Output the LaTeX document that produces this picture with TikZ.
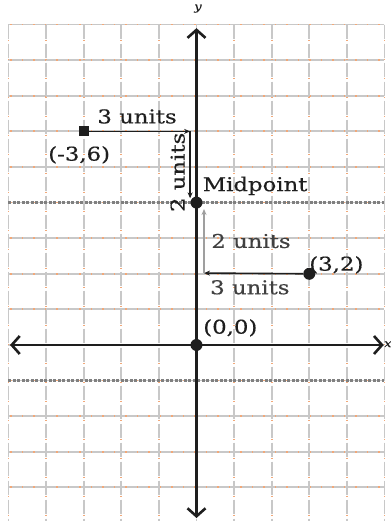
\documentclass[tikz,border=0pt]{standalone}
\usepackage{fontspec}
\setmainfont{DejaVu Serif}[FakeStretch=1.2,FakeBold=0.4]
\usetikzlibrary{arrows.meta}
\definecolor{ink}{HTML}{1E1E1E}
\definecolor{ink2}{HTML}{404040}
\definecolor{gridc}{HTML}{C8C8C8}
\definecolor{dotc}{HTML}{F2A878}
\begin{document}
\begin{tikzpicture}[x=37.6pt,y=35.6pt,
  lbl/.style={font=\fontsize{19}{19}\selectfont, text=ink, inner sep=0pt},
  gridline/.style={gridc, line width=1.8pt},
  dotline/.style={dotc, line width=1.8pt, dash pattern=on 1.5pt off 10pt},
  darkdash/.style={gray, line width=2.2pt, dash pattern=on 3pt off 1.5pt},
  axis/.style={ink, line width=2.4pt, {Straight Barb[length=8pt,width=18pt,line width=2.6pt]}-{Straight Barb[length=8pt,width=18pt,line width=2.6pt]}},
  path/.style={ink, line width=1.6pt, -{Stealth[length=6pt,width=5pt]}},
  pt/.style={circle, fill=ink, minimum size=12pt, inner sep=0pt},
  sq/.style={rectangle, fill=ink, minimum size=10pt, inner sep=0pt}]
\useasboundingbox (-5.226,-4.944) rectangle (5.173,9.691);
\fill[white] (-5.226,-4.944) rectangle (5.173,9.691);
% grid
\foreach \i in {-4,...,9} {
  \draw[gridline] (-5,\i) -- (5,\i);
  \draw[dotline] (-4.95,\i) -- (5,\i);
}
\foreach \i in {-5,...,5} {
  \draw[gridline, dash pattern=on 14pt off 5pt] (\i,9) -- (\i,-4.944);
  \draw[dotline, dash pattern=on 1.5pt off 17.5pt, dash phase=-15pt] (\i,9) -- (\i,-4.944);
}
\draw[darkdash] (-5,4) -- (5,4);
\draw[darkdash] (-5,-1) -- (5,-1);
% axes
\coordinate (xl) at (-4.96,0);
\coordinate (xr) at (4.98,0);
\coordinate (yb) at (0,-4.86);
\coordinate (yt) at (0,8.9);
\draw[axis] (xl) -- (xr);
\draw[axis] (yb) -- (yt);
\node[lbl, font=\itshape\fontsize{11}{11}\selectfont] (ylab) at (0.04,9.45) {y};
\node[lbl, anchor=west, font=\itshape\fontsize{11}{11}\selectfont] (xlab) at (4.985,0.02) {x};
% points
\node[sq] (A) at (-3,6) {};
\node[pt] (M) at (0,4) {};
\node[pt] (B) at (3,2) {};
\node[pt] (O) at (0,0) {};
% paths
\coordinate (c1) at (-0.17,6);
\coordinate (c2) at (-0.17,4.12);
\coordinate (c3) at (0.2,2.02);
\coordinate (c4) at (0.2,3.82);
\draw[path] (A) -- (c1);
\draw[path] (c1) -- (c2);
\draw[path] (B) -- (c3);
\draw[path, color=gray!75] (c3) -- (c4);
% labels
\node[lbl] (l1) at (-1.58,6.42) {3 units};
\node[lbl] (lA) at (-3.12,5.34) {(-3,6)};
\node[lbl, rotate=90] (l2) at (-0.5,4.85) {2 units};
\node[lbl] (lM) at (1.56,4.47) {Midpoint};
\node[lbl, text=ink2] (l3) at (1.45,2.92) {2 units};
\node[lbl, text=ink2] (l4) at (1.42,1.62) {3 units};
\node[lbl] (lB) at (3.72,2.25) {(3,2)};
\node[lbl] (lO) at (0.9,0.48) {(0,0)};
\end{tikzpicture}
\end{document}
